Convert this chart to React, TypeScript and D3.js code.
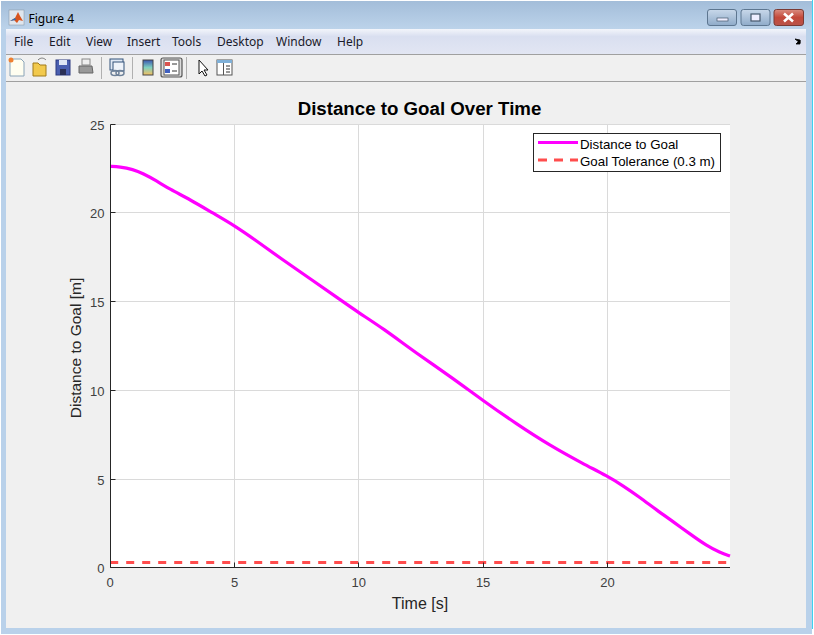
import * as d3 from 'd3'

const WIDTH = 814
const HEIGHT = 635

const timeValues = [0, 0.38, 0.92, 1.32, 1.86, 2.39, 3.2, 4.14, 4.98, 5.88, 6.82, 8.16, 9.23, 9.97, 10.98, 12.32, 13.66, 15, 16.34, 17.68, 19.03, 20, 20.63, 21.3, 21.98, 22.65, 23.32, 23.99, 24.53, 24.93]
const distanceValues = [22.62, 22.6, 22.45, 22.22, 21.81, 21.34, 20.76, 19.98, 19.3, 18.43, 17.47, 16.18, 15.13, 14.4, 13.49, 12.09, 10.81, 9.42, 8.11, 6.9, 5.86, 5.17, 4.63, 3.98, 3.26, 2.6, 1.91, 1.25, 0.86, 0.67]
const toleranceValue = 0.3

const xTicks = [0, 5, 10, 15, 20]
const yTicks = [0, 5, 10, 15, 20, 25]
const menuItems = ['File', 'Edit', 'View', 'Insert', 'Tools', 'Desktop', 'Window', 'Help']
const menuX = [14, 49, 86, 127, 172, 217, 276, 337]

const xScale = d3.scaleLinear().domain([0, 24.93]).range([110.2, 730])
const yScale = d3.scaleLinear().domain([0, 25]).range([567.9, 124.15])

// snap ticks and grid to the pixel grid, as the original renderer does
const crisp = (v: number) => Math.floor(v) + 0.5

const distanceLine = d3.line<number>()
  .x((_, i) => xScale(timeValues[i]))
  .y(d => yScale(d))
  .curve(d3.curveBasis)

const AXIS_FONT = 'Liberation Sans, Arial, sans-serif'
const UI_FONT = 'Noto Sans, Open Sans, sans-serif'
const AXIS_COLOR = '#262626'
const GRID_COLOR = '#dadada'
const MAGENTA = '#ff00ff'
const TOLERANCE_RED = '#ff4d4d'

function Toolbar() {
  return (
    <g>
      {/* new */}
      <path d="M10 59h11l3 3v14h-14z" fill="#fffef0" stroke="#8aa4b8" />
      <circle cx="11" cy="60" r="2.5" fill="#f08030" />
      {/* open */}
      <path d="M33 63h5l2 2h6v11h-13z" fill="#f2c94c" stroke="#a07a1a" />
      <path d="M38 60c3-3 6-2 8 0" fill="none" stroke="#777" />
      {/* save */}
      <rect x="56" y="60" width="14" height="15" fill="#4a5fb0" stroke="#2c3a80" />
      <rect x="59" y="60" width="8" height="5" fill="#dfe6f5" />
      <rect x="60" y="69" width="6" height="6" fill="#2a2f55" />
      {/* print */}
      <rect x="82" y="59" width="8" height="6" fill="#eee" stroke="#888" />
      <path d="M79 66h13l1 7h-14z" fill="#999" stroke="#666" />
      <line x1="101.5" x2="101.5" y1="57" y2="79" stroke="#b0b0b0" />
      {/* link */}
      <rect x="110" y="59" width="13" height="11" fill="#dfe8f5" stroke="#33527a" />
      <rect x="113" y="62" width="11" height="9" fill="#eef3fa" stroke="#33527a" />
      <ellipse cx="115" cy="73" rx="4" ry="2.5" fill="none" stroke="#6d8199" strokeWidth="1.5" />
      <ellipse cx="120" cy="73" rx="4" ry="2.5" fill="none" stroke="#6d8199" strokeWidth="1.5" />
      <line x1="132.5" x2="132.5" y1="57" y2="79" stroke="#b0b0b0" />
      {/* colorbar */}
      <rect x="143" y="60" width="10" height="15" fill="url(#cbar)" stroke="#444" />
      {/* legend toggle, pressed */}
      <rect x="161" y="58" width="21" height="19" rx="2" fill="#dcdcdc" stroke="#555" strokeWidth="1.2" />
      <rect x="164" y="60" width="15" height="15" fill="#fff" stroke="#555" />
      <rect x="165" y="62" width="5" height="4" fill="#d9534f" />
      <rect x="165" y="69" width="5" height="4" fill="#4060c0" />
      <line x1="172" x2="177" y1="64" y2="64" stroke="#333" />
      <line x1="172" x2="177" y1="71" y2="71" stroke="#333" />
      <line x1="186.5" x2="186.5" y1="57" y2="79" stroke="#b0b0b0" />
      {/* pointer */}
      <path d="M199 60v14l3-3 3 5 2-1-3-5h4z" fill="#fff" stroke="#111" />
      {/* property panel */}
      <rect x="217" y="60" width="15" height="15" fill="#fff" stroke="#555" />
      <rect x="217" y="60" width="15" height="3" fill="#7fb0d8" />
      <line x1="223.5" x2="223.5" y1="63" y2="75" stroke="#555" />
      <line x1="226" x2="230" y1="66" y2="66" stroke="#333" />
      <line x1="226" x2="230" y1="69" y2="69" stroke="#333" />
      <line x1="226" x2="230" y1="72" y2="72" stroke="#333" />
    </g>
  )
}

function WindowFrame() {
  return (
    <g>
      <defs>
        <linearGradient id="cbar" x1="0" x2="0" y1="0" y2="1">
          <stop offset="0" stopColor="#3a55b0" />
          <stop offset="0.5" stopColor="#7fd0c0" />
          <stop offset="1" stopColor="#f6c060" />
        </linearGradient>
        <linearGradient id="titleBar" x1="0" x2="0" y1="0" y2="1">
          <stop offset="0" stopColor="#a3bdd9" />
          <stop offset="1" stopColor="#bcd3ea" />
        </linearGradient>
        <linearGradient id="menuBar" x1="0" x2="0" y1="0" y2="1">
          <stop offset="0" stopColor="#f3f5fb" />
          <stop offset="0.3" stopColor="#d9dff0" />
          <stop offset="1" stopColor="#e2e6f3" />
        </linearGradient>
        <linearGradient id="closeBtn" x1="0" x2="0" y1="0" y2="1">
          <stop offset="0" stopColor="#d98d80" />
          <stop offset="0.5" stopColor="#c4493a" />
          <stop offset="1" stopColor="#b8544a" />
        </linearGradient>
        <linearGradient id="winBtn" x1="0" x2="0" y1="0" y2="1">
          <stop offset="0" stopColor="#c8d8ea" />
          <stop offset="1" stopColor="#8fabc9" />
        </linearGradient>
      </defs>
      <rect width={WIDTH} height={HEIGHT} fill="#ffffff" />
      <rect x="1" y="1" width={WIDTH - 3} height={HEIGHT - 2} fill="#b9d1ea" />
      <rect x="1" y="1" width={WIDTH - 3} height="28" fill="url(#titleBar)" />
      <line x1="812.5" x2="812.5" y1="0" y2={HEIGHT - 6} stroke="#3fd0f0" />
      {/* title */}
      <rect x="9" y="10" width="15" height="15" fill="#dfe6ee" stroke="#8090a0" strokeWidth="0.5" />
      <path d="M10 21l5-3 3-6 2 4 3 5-4-1-2 3-3-3z" fill="#d9541e" />
      <path d="M10 21l5-3 1 2z" fill="#2f6db0" />
      <text x="28.5" y="22.5" fontFamily={UI_FONT} fontSize="12" fill="#000">Figure 4</text>
      {/* window buttons */}
      <rect x="707.5" y="9.5" width="29" height="16" rx="2.5" fill="url(#winBtn)" stroke="#5d7690" />
      <rect x="717" y="18" width="11" height="3" fill="#eef" stroke="#45586c" strokeWidth="0.7" />
      <rect x="741" y="9.5" width="29" height="16" rx="2.5" fill="url(#winBtn)" stroke="#5d7690" />
      <rect x="751" y="14" width="9" height="7" fill="#eef" stroke="#45586c" strokeWidth="1.2" />
      <rect x="774" y="9.5" width="29.5" height="16" rx="2.5" fill="url(#closeBtn)" stroke="#7a3a34" />
      <path d="M784 13.5l9 8M793 13.5l-9 8" stroke="#fff" strokeWidth="2.6" />
      {/* menu */}
      <rect x="6" y="29" width="800" height="25" fill="url(#menuBar)" />
      <line x1="6" x2="806" y1="54.5" y2="54.5" stroke="#a0a0a0" />
      {menuItems.map((m, i) => (
        <text key={m} x={menuX[i]} y="46" fontFamily={UI_FONT} fontSize="12" fill="#1a1a2a">{m}</text>
      ))}
      <path d="M795 39l5 4v-3zM800 44v-4l-4 4z" fill="#000" stroke="#000" strokeWidth="0.8" />
      {/* toolbar */}
      <rect x="6" y="55" width="800" height="26" fill="#f0f0f0" />
      <line x1="6" x2="806" y1="81.5" y2="81.5" stroke="#a0a0a0" />
      {/* figure background */}
      <rect x="6" y="82" width="800" height="546" fill="#f0f0f0" />
    </g>
  )
}

export default function App() {
  const [x0, x1] = xScale.range()
  const [yBottom, yTop] = yScale.range()
  const left = crisp(x0)
  const bottom = crisp(yBottom)
  const top = crisp(yTop)
  return (
    <svg
      width={WIDTH}
      height={HEIGHT}
      style={{ position: 'absolute', left: 0, top: 0, display: 'block' }}
    >
      <WindowFrame />
      <Toolbar />

      <rect x={left} y={top} width={x1 - left} height={bottom - top} fill="#fff" />

      {/* grid */}
      {xTicks.filter(t => t > 0).map(t => (
        <line key={t} x1={crisp(xScale(t))} x2={crisp(xScale(t))} y1={top} y2={bottom} stroke={GRID_COLOR} />
      ))}
      {yTicks.filter(t => t > 0).map(t => (
        <line key={t} x1={left} x2={x1} y1={crisp(yScale(t))} y2={crisp(yScale(t))} stroke={GRID_COLOR} />
      ))}

      {/* data */}
      <line
        x1={x0} x2={x1}
        y1={yScale(toleranceValue)} y2={yScale(toleranceValue)}
        stroke={TOLERANCE_RED} strokeWidth="3" strokeDasharray="8 8"
      />
      <path
        d={distanceLine(distanceValues) ?? ''}
        fill="none" stroke={MAGENTA} strokeWidth="3.2"
      />

      {/* axes */}
      <line x1={left} x2={left} y1={top} y2={bottom} stroke={AXIS_COLOR} />
      <line x1={left} x2={x1} y1={bottom} y2={bottom} stroke={AXIS_COLOR} />
      {xTicks.map(t => (
        <g key={t}>
          <line x1={crisp(xScale(t))} x2={crisp(xScale(t))} y1={bottom} y2={bottom - 5} stroke={AXIS_COLOR} />
          <text x={xScale(t)} y={586.5} textAnchor="middle" fontFamily={AXIS_FONT} fontSize="13" fill="#404040">{t}</text>
        </g>
      ))}
      {yTicks.map(t => (
        <g key={t}>
          <line x1={left} x2={left + 5} y1={crisp(yScale(t))} y2={crisp(yScale(t))} stroke={AXIS_COLOR} />
          <text x={left - 6} y={crisp(yScale(t)) + 5.5} textAnchor="end" fontFamily={AXIS_FONT} fontSize="13" fill="#404040">{t}</text>
        </g>
      ))}

      <text x="419.5" y="115" textAnchor="middle" fontFamily={AXIS_FONT} fontSize="18.7" fontWeight="bold" fill="#000">Distance to Goal Over Time</text>
      <text x="420" y="609" textAnchor="middle" fontFamily={AXIS_FONT} fontSize="16" fill="#262626">Time [s]</text>
      <text transform="translate(81,348) rotate(-90)" textAnchor="middle" fontFamily={AXIS_FONT} fontSize="15.5" fill="#262626">Distance to Goal [m]</text>

      {/* legend */}
      <rect x="533.5" y="133.5" width="187" height="38" fill="#fff" stroke={AXIS_COLOR} />
      <line x1="538" x2="578" y1="142.5" y2="142.5" stroke={MAGENTA} strokeWidth="3" />
      <line x1="538" x2="578" y1="160" y2="160" stroke={TOLERANCE_RED} strokeWidth="3" strokeDasharray="9 7" />
      <text x="580" y="149" fontFamily={AXIS_FONT} fontSize="13.3" fill="#000">Distance to Goal</text>
      <text x="580" y="166" fontFamily={AXIS_FONT} fontSize="13.3" fill="#000">Goal Tolerance (0.3 m)</text>
    </svg>
  )
}
